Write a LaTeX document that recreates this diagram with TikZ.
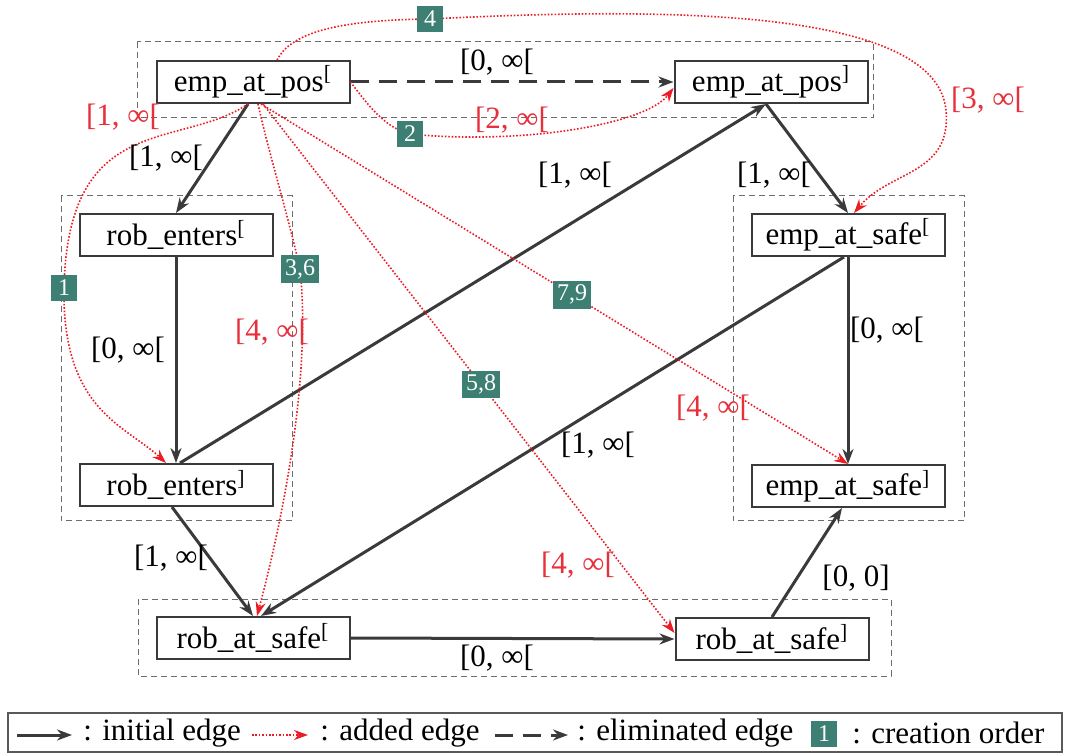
\documentclass[tikz,border=0pt]{standalone}
\usepackage{fontspec}
\setmainfont{Liberation Serif}
\usetikzlibrary{arrows.meta}
\definecolor{edgegray}{HTML}{3A3A3C}
\definecolor{addred}{HTML}{EC1C24}
\definecolor{labred}{HTML}{E8303C}
\definecolor{ordgreen}{HTML}{3D7F72}
\newcommand{\opn}{\textsuperscript{[}}
\newcommand{\cls}{\textsuperscript{]}}

\begin{document}
\begin{tikzpicture}[x=0.5pt,y=-0.5pt,
  font=\fontsize{15.5}{18}\selectfont,
  event/.style={draw=edgegray,line width=1pt,fill=white,minimum width=96.5pt,minimum height=21pt,inner sep=0pt},
  group/.style={draw=gray!85!black,line width=0.5pt,dash pattern=on 3pt off 2pt},
  initial/.style={draw=edgegray,line width=1.5pt,-{Stealth[length=7.5pt,width=5.5pt]}},
  added/.style={draw=addred,line width=0.8pt,dash pattern=on 0.8pt off 0.9pt,-{Stealth[length=7pt,width=5pt]}},
  elim/.style={initial,dash pattern=on 9pt off 5pt},
  order/.style={fill=ordgreen,text=white,font=\fontsize{12}{14}\selectfont,minimum width=13pt,minimum height=13pt,inner sep=2pt},
  redlab/.style={text=labred},
  keytext/.style={anchor=west,inner sep=0pt},
]
\useasboundingbox (0,0) rectangle (1066,753);

% groups
\draw[group] (137,42) rectangle (873,118);
\draw[group] (61,196) rectangle (292,521);
\draw[group] (733,196) rectangle (964,521);
\draw[group] (138,599) rectangle (891,676);

% events
\node[event] (A1) at (253,82) {emp\_at\_pos\opn};
\node[event] (A2) at (771,82) {emp\_at\_pos\cls};
\node[event] (B1) at (176,235) {rob\_enters\opn};
\node[event] (B2) at (176,485) {rob\_enters\cls};
\node[event] (C1) at (848,235) {emp\_at\_safe\opn};
\node[event] (C2) at (848,486) {emp\_at\_safe\cls};
\node[event] (D1) at (253,638) {rob\_at\_safe\opn};
\node[event] (D2) at (772,639) {rob\_at\_safe\cls};

% initial edges
\draw[elim] (A1.east) -- (A2.west);
\draw[initial] ([xshift=-2.5pt]A1.south) -- (B1.north);
\draw[initial] (B1.south) -- (B2.north);
\draw[initial] ([xshift=2pt]B2.north) -- ([xshift=-2.5pt]A2.south);
\draw[initial] ([xshift=-2.5pt]A2.south) -- (C1.north);
\draw[initial] (C1.south) -- (C2.north);
\draw[initial] ([xshift=-2pt]C1.south) -- ([xshift=4pt]D1.north);
\draw[initial] ([xshift=-2pt]B2.south) -- (D1.north);
\draw[initial] (D1.east) -- (D2.west);
\draw[initial] (D2.north) -- ([xshift=-3pt]C2.south);

% added edges
\draw[added] ([xshift=-2.5pt]A1.south) .. controls (180,150) and (68,110) .. (64,288) node[order] {1}
  .. controls (62,410) and (125,425) .. ([xshift=-5pt]B2.north);
\draw[added] (A1.east) .. controls (368,105) and (385,128) .. (410,134) node[order] {2}
  .. controls (520,145) and (645,125) .. ([yshift=-3pt]A2.west);
\draw[added] ([xshift=12pt]A1.north) .. controls (290,35) and (330,20) .. (430,19) node[order] {4}
  .. controls (650,8) and (935,5) .. (946,110)
  .. controls (952,175) and (890,170) .. ([xshift=3pt]C1.north);
\draw[added] ([xshift=2.5pt]A1.south) .. controls (268,150) and (288,215) .. (300,269) node[order] {3,6}
  .. controls (312,380) and (280,530) .. ([xshift=2pt]D1.north);
\draw[added] ([xshift=4pt]A1.south) -- node[order,pos=0.53] {7,9} (C2.north);
\draw[added] ([xshift=5pt]A1.south) -- node[order,pos=0.53] {5,8} ([yshift=3pt]D2.west);

% bounds
\node (b1) at (497,62) {[0, ∞[};
\node (b2) at (166,158) {[1, ∞[};
\node (b3) at (128,350) {[0, ∞[};
\node (b4) at (575,175) {[1, ∞[};
\node (b5) at (774,175) {[1, ∞[};
\node (b6) at (887,330) {[0, ∞[};
\node (b7) at (598,445) {[1, ∞[};
\node (b8) at (171,558) {[1, ∞[};
\node (b9) at (497,658) {[0, ∞[};
\node (b10) at (856,578) {[0, 0]};
\node[redlab] (r1) at (123,117) {[1, ∞[};
\node[redlab] (r2) at (512,120) {[2, ∞[};
\node[redlab] (r3) at (988,100) {[3, ∞[};
\node[redlab] (r4) at (272,332) {[4, ∞[};
\node[redlab] (r5) at (713,408) {[4, ∞[};
\node[redlab] (r6) at (578,565) {[4, ∞[};

% legend
\draw[draw=gray!70!black,line width=1pt] (8,713) rectangle (1062,752);
\coordinate (k1a) at (17,735);
\coordinate (k1b) at (72,735);
\coordinate (k2a) at (252,735);
\coordinate (k2b) at (308,735);
\coordinate (k3a) at (495,735);
\coordinate (k3b) at (568,735);
\draw[initial] (k1a) -- (k1b);
\node[keytext] (k1) at (83,733) {: initial edge};
\draw[added] (k2a) -- (k2b);
\node[keytext] (k2) at (320,733) {: added edge};
\draw[elim] (k3a) -- (k3b);
\node[keytext] (k3) at (577,733) {: eliminated edge};
\node[order] (k4) at (824,734) {1};
\node[keytext] (k5) at (852,733) {: creation order};
\end{tikzpicture}
\end{document}
